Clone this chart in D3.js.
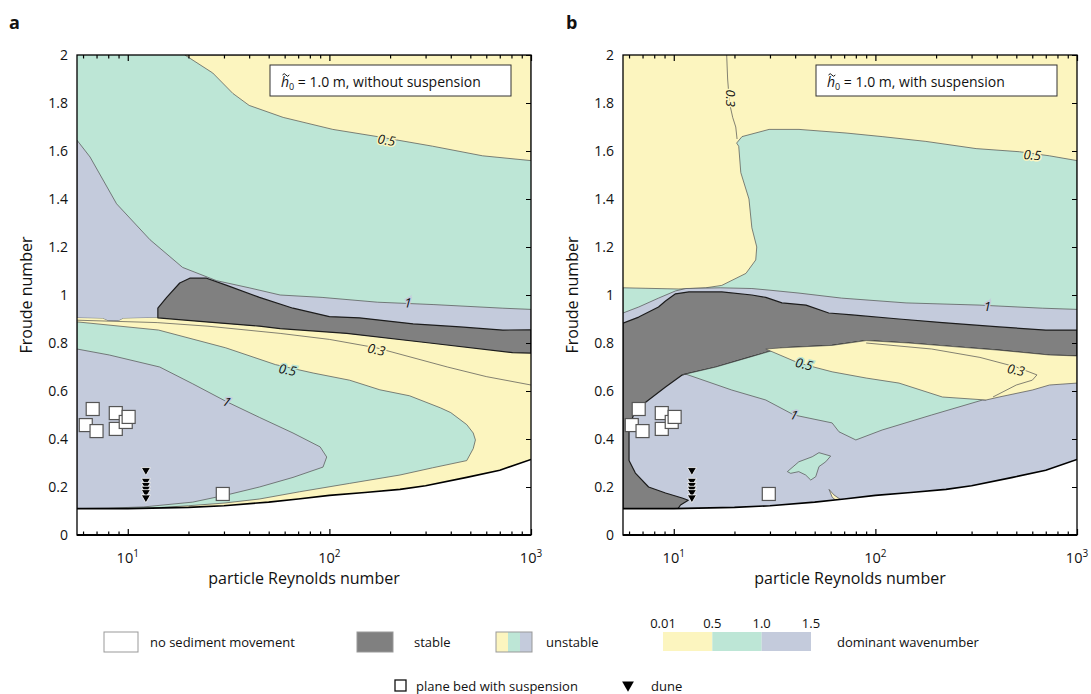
<!DOCTYPE html>
<meta charset="utf-8">
<script src="https://d3js.org/d3.v7.min.js"></script>
<style>
  body { margin: 0; background: #fff; }
  text { font-family: "Open Sans", sans-serif; fill: #111; }
</style>
<div id="chart"></div>
<script>
// ---- axis values ----
const Y_TICKS = [0, 0.2, 0.4, 0.6, 0.8, 1, 1.2, 1.4, 1.6, 1.8, 2];
const X_MAJOR = [10, 100, 1000];
const X_MINOR = [6, 7, 8, 9, 20, 30, 40, 50, 60, 70, 80, 90, 200, 300, 400, 500, 600, 700, 800, 900];

// ---- shared: threshold of motion and observations  [Re_p, Fr] ----
const noMotion = [[5.6,0.11],[10,0.11],[20,0.115],[30,0.122],[50,0.137],[70,0.15],[100,0.165],[150,0.177],[224,0.19],[300,0.205],[480,0.24],[700,0.27],[1000,0.315]];
const planeBed = [[6.7,0.525],[6.19,0.458],[7.0,0.433],[8.72,0.508],[8.72,0.442],[9.77,0.471],[10.1,0.492],[29.6,0.171]];
const dunes = [[12.3,0.27],[12.3,0.225],[12.3,0.208],[12.3,0.192],[12.3,0.178],[12.3,0.156]];

// ---- panel a: without suspension ----
const aTopYellow = [[19.2,2],[26.4,1.925],[33.2,1.84],[40,1.79],[59,1.74],[104,1.69],[173,1.66],[325,1.62],[575,1.58],[1000,1.56]];
const aUpperBlueTop = [[5.6,1.645],[6.5,1.575],[8.8,1.38],[12.9,1.23],[18.7,1.115],[27.5,1.06],[40,1.03],[57,1.0],[92,0.99],[173,0.97],[330,0.96],[725,0.945],[1000,0.94]];
const aBandBottom = [[5.6,0.904],[7.5,0.902],[8,0.892],[9,0.892],[9.5,0.902],[14.1,0.905],[22.8,0.89],[45,0.87],[57,0.86],[122,0.84],[315,0.80],[810,0.76],[1000,0.758]];
const aStableTop = [[14.1,0.905],[14.1,0.945],[15.6,0.99],[18.1,1.05],[20.3,1.07],[24.6,1.07],[31,1.04],[45,0.99],[66,0.945],[100,0.91],[141,0.905],[260,0.88],[445,0.867],[725,0.854],[1000,0.855]];
const aStableBottom = [[1000,0.758],[810,0.76],[315,0.80],[122,0.84],[57,0.86],[45,0.87],[22.8,0.89],[14.1,0.905]];
const aGreenLobe = [[5.6,0.888],[14.2,0.854],[30.6,0.78],[54,0.71],[83,0.675],[126,0.645],[178,0.605],[250,0.58],[355,0.53],[400,0.51],[480,0.46],[517,0.425],[530,0.396],[517,0.36],[480,0.31],[325,0.28],[224,0.25],[126,0.215],[71,0.18],[45,0.15],[30,0.133],[20,0.122],[13,0.112],[5.6,0.11]];
const aBlueLobe = [[5.6,0.775],[8.1,0.75],[14.4,0.70],[21,0.63],[31,0.555],[45,0.49],[66,0.425],[90,0.367],[97,0.325],[93,0.283],[66,0.24],[45,0.2],[31,0.167],[21,0.137],[12,0.117],[8,0.112],[5.6,0.11]];
const aContour03 = [[5.6,0.895],[14,0.885],[25,0.87],[57,0.84],[100,0.815],[171,0.78],[385,0.70],[600,0.66],[1000,0.625]];
const aLabels = [["0.5",192,1.645,9],["1",245,0.967,3],["0.3",171,0.772,13],["0.5",62,0.688,11],["1",31,0.555,26]];

// ---- panel b: with suspension ----
const bGreenTop = [[5.6,1.03],[10.6,1.025],[14.4,1.03],[17.3,1.04],[22.8,1.09],[25.5,1.146],[25.8,1.2],[24.4,1.28],[23.6,1.4],[21.5,1.51],[21.0,1.62],[20.5,1.633],[21.8,1.66],[29.7,1.69],[41.8,1.69],[71.5,1.675],[108,1.66],[178,1.64],[316,1.61],[518,1.597],[730,1.58],[1000,1.56]];
const bBlueTop = [[5.6,0.925],[6.7,0.95],[8.4,0.987],[10.2,1.017],[11.5,1.027],[17,1.03],[24.4,1.027],[30,1.02],[41.8,1.008],[68,0.987],[142,0.967],[327,0.958],[675,0.945],[1000,0.94]];
const bStableTop = [[5.6,0.883],[6.7,0.908],[8.4,0.95],[9.1,0.975],[10.2,1.005],[11.9,1.013],[17.3,1.013],[24.4,1.0],[28.6,0.99],[34.4,0.967],[45.3,0.958],[58.7,0.925],[76.6,0.917],[131,0.9],[215,0.885],[411,0.867],[700,0.854],[1000,0.854]];
const bStableBottom = [[1000,0.746],[730,0.75],[411,0.77],[260,0.783],[146,0.80],[90,0.81],[61,0.79],[34.4,0.78],[23.6,0.74],[16.2,0.70],[11,0.667],[9.1,0.617],[7.5,0.5625],[6.45,0.52],[6.0,0.45],[6.0,0.367],[6.0,0.31],[6.45,0.258],[7.5,0.2],[9.1,0.175],[11,0.154],[11.8,0.145],[10.8,0.125],[10.5,0.11],[5.6,0.11]];
const bGreenLobe = [[11,0.667],[16.2,0.70],[23.6,0.74],[34.4,0.78],[61,0.79],[90,0.81],[146,0.80],[260,0.783],[411,0.77],[354,0.5625],[340,0.5625],[190,0.5],[108,0.4375],[80,0.396],[66,0.43],[61,0.467],[39.5,0.5],[28.6,0.5625],[19.4,0.604],[11.5,0.67]];
const bMidYellow = [[1000,0.746],[730,0.75],[411,0.77],[260,0.783],[146,0.80],[90,0.81],[61,0.79],[34.4,0.78],[28.6,0.775],[41.8,0.716],[61,0.68],[90,0.654],[131,0.633],[215,0.575],[354,0.5625],[411,0.575],[600,0.604],[730,0.625],[1000,0.633]];
const bIsland = [[36.6,0.264],[41.7,0.305],[48.6,0.326],[52.5,0.343],[60,0.329],[56.7,0.305],[52.5,0.285],[50.6,0.243],[47.8,0.229],[45.1,0.25],[41.7,0.264],[38,0.257]];
const bSliver = [[58.9,0.19],[62.3,0.167],[68.5,0.143],[64.9,0.139],[61.1,0.157]];
const bContour03Top = [[18.3,2.0],[18.5,1.9],[18.9,1.8],[19.6,1.74],[20.3,1.70],[20.6,1.65]];
const bContour03Low = [[90,0.80],[190,0.775],[330,0.74],[500,0.70],[633,0.667],[600,0.645],[500,0.625],[383,0.575]];
const bLabels = [["0.3",19.1,1.82,90],["0.5",600,1.583,4],["1",359,0.951,0],["0.5",44.3,0.712,14],["1",39.5,0.5,16],["0.3",498,0.6875,12]];

// ---- colours ----
const C = { yellow: "#fcf5bf", green: "#bde6d6", blue: "#c4cbdc", stable: "#808080", edge: "#4f4f4f" };

const svg = d3.select("#chart").append("svg").attr("width", 1091).attr("height", 694);
const y = d3.scaleLinear().domain([0, 2]).range([535, 55]);
const xA = d3.scaleLog().domain([5.6, 1000]).range([77, 531]);
const xB = d3.scaleLog().domain([5.6, 1000]).range([623, 1077]);

function panel(id, x, fills, lines, labels, labelBg, title, letter, letterX) {
  const x0 = x.range()[0], x1 = x.range()[1];
  const line = d3.line().x(d => x(d[0])).y(d => y(d[1]));
  svg.append("clipPath").attr("id", "clip" + id).append("rect")
    .attr("x", x0).attr("y", y(2)).attr("width", x1 - x0).attr("height", y(0) - y(2));
  const g = svg.append("g").attr("clip-path", "url(#clip" + id + ")");

  fills.forEach(f => {
    g.append("path").attr("d", line(f.pts) + "Z")
      .attr("fill", f.fill)
      .attr("stroke", f.stroke || "none")
      .attr("stroke-width", f.sw || 0.7)
      .attr("stroke-linejoin", "round");
  });
  // no-motion region
  g.append("path").attr("d", line(noMotion.concat([[1000, 0], [5.6, 0]])) + "Z").attr("fill", "#fff");
  g.append("path").attr("d", line(noMotion)).attr("fill", "none").attr("stroke", "#000").attr("stroke-width", 1.6);

  lines.forEach(l => {
    g.append("path").attr("d", line(l)).attr("fill", "none").attr("stroke", C.edge).attr("stroke-width", 0.7);
  });

  labels.forEach((l, i) => {
    g.append("text")
      .attr("transform", `translate(${x(l[1])},${y(l[2])}) rotate(${l[3]})`)
      .attr("text-anchor", "middle").attr("dy", "0.35em")
      .attr("font-size", 13).attr("font-style", "italic")
      .attr("stroke", labelBg[i]).attr("stroke-width", 3).attr("paint-order", "stroke")
      .text(l[0]);
  });

  // observations
  g.selectAll(".pb").data(planeBed).join("rect")
    .attr("x", d => x(d[0]) - 6.5).attr("y", d => y(d[1]) - 6.5)
    .attr("width", 13).attr("height", 13)
    .attr("fill", "#fff").attr("stroke", "#555").attr("stroke-width", 1.2);
  g.selectAll(".du").data(dunes).join("path")
    .attr("d", d3.symbol(d3.symbolTriangle, 36))
    .attr("transform", d => `translate(${x(d[0])},${y(d[1])}) rotate(180)`)
    .attr("fill", "#000").attr("stroke", "#fff").attr("stroke-width", 0.8);

  // axes
  const left = svg.append("g").attr("transform", `translate(${x0},0)`)
    .call(d3.axisLeft(y).tickValues(Y_TICKS).tickSize(0).tickPadding(9).tickFormat(d3.format("~g")));
  left.select(".domain").remove();
  left.selectAll("text").attr("font-size", 14).attr("font-family", "Open Sans");

  const right = svg.append("g").attr("transform", `translate(${x1},0)`)
    .call(d3.axisLeft(y).tickValues(Y_TICKS).tickSize(5).tickFormat(""));
  right.select(".domain").remove();

  const xt = X_MAJOR.concat(X_MINOR);
  [["top", y(2), d3.axisBottom], ["bottom", y(0), d3.axisTop]].forEach(([n, yy, ax]) => {
    const a = svg.append("g").attr("transform", `translate(0,${yy})`)
      .call(ax(x).tickValues(xt).tickFormat("").tickSize(6));
    a.select(".domain").remove();
    a.selectAll(".tick line").attr("y2", d => (X_MAJOR.includes(d) ? 6 : 3.5) * (n === "top" ? 1 : -1))
      .attr("stroke-width", 1.2);
  });
  svg.selectAll(".tick line").attr("stroke", "#000");

  X_MAJOR.forEach((v, i) => {
    const t = svg.append("text").attr("x", x(v)).attr("y", 563).attr("text-anchor", "middle").attr("font-size", 14.5);
    t.append("tspan").text("10");
    t.append("tspan").attr("dy", -6).attr("font-size", 10).text(i + 1);
  });

  // frame
  svg.append("rect").attr("x", x0).attr("y", y(2)).attr("width", x1 - x0).attr("height", y(0) - y(2))
    .attr("fill", "none").attr("stroke", "#000").attr("stroke-width", 1.3);
  svg.append("line").attr("x1", x0).attr("x2", x1).attr("y1", y(0)).attr("y2", y(0))
    .attr("stroke", "#000").attr("stroke-width", 2);

  // axis titles
  svg.append("text").attr("x", (x0 + x1) / 2).attr("y", 584).attr("text-anchor", "middle")
    .attr("font-size", 16).text("particle Reynolds number");
  svg.append("text").attr("transform", `translate(${x0 - 45},${y(1)}) rotate(-90)`)
    .attr("text-anchor", "middle").attr("font-size", 16).text("Froude number");
  svg.append("text").attr("x", letterX).attr("y", 29).attr("font-size", 18).attr("font-weight", "bold").text(letter);

  // condition box
  const bx = x0 + 193;
  svg.append("rect").attr("x", bx).attr("y", 65).attr("width", 241).attr("height", 31)
    .attr("fill", "#fff").attr("stroke", "#333").attr("stroke-width", 1);
  const t = svg.append("text").attr("x", bx + 11).attr("y", 87).attr("font-size", 14);
  t.append("tspan").attr("font-style", "italic").text("h");
  t.append("tspan").attr("dy", 3).attr("font-size", 9).text("0");
  t.append("tspan").attr("dy", -3).text(" = 1.0 m, " + title);
  // tilde accent over h
  svg.append("path")
    .attr("d", `M${bx + 12.5},${75} q1.7,-2.6 3.4,0 t3.4,0`)
    .attr("fill", "none").attr("stroke", "#111").attr("stroke-width", 1);
}

panel("a", xA,
  [
    { pts: [[5.6,0],[1000,0],[1000,2],[5.6,2]], fill: C.green },
    { pts: aTopYellow.concat([[1000,2]]), fill: C.yellow, stroke: C.edge },
    { pts: aUpperBlueTop.concat(aBandBottom.slice().reverse()), fill: C.blue, stroke: C.edge },
    { pts: aBandBottom.concat([[1000,0],[5.6,0]]), fill: C.yellow },
    { pts: aStableTop.concat(aStableBottom), fill: C.stable, stroke: "#1c1c1c", sw: 1.2 },
    { pts: aGreenLobe, fill: C.green, stroke: C.edge },
    { pts: aBlueLobe, fill: C.blue, stroke: C.edge }
  ],
  [aContour03], aLabels, [C.yellow, C.blue, C.yellow, C.green, C.blue],
  "without suspension", "a", 9);

panel("b", xB,
  [
    { pts: [[5.6,0],[1000,0],[1000,2],[5.6,2]], fill: C.yellow },
    { pts: bGreenTop.concat([[1000,0],[5.6,0]]), fill: C.green, stroke: C.edge },
    { pts: bBlueTop.concat([[1000,0],[5.6,0]]), fill: C.blue, stroke: C.edge },
    { pts: bStableTop.concat(bStableBottom), fill: C.stable, stroke: "#1c1c1c", sw: 1.2 },
    { pts: bGreenLobe, fill: C.green, stroke: C.edge },
    { pts: bMidYellow, fill: C.yellow, stroke: C.edge },
    { pts: bIsland, fill: C.green, stroke: C.edge },
    { pts: bSliver, fill: C.yellow, stroke: C.edge }
  ],
  [bContour03Top, bContour03Low], bLabels, [C.yellow, C.yellow, C.blue, C.green, C.blue, C.yellow],
  "with suspension", "b", 566);

// ---- legend ----
const L = svg.append("g");
L.append("rect").attr("x", 104).attr("y", 632).attr("width", 34).attr("height", 20).attr("fill", "#fff").attr("stroke", "#999");
L.append("text").attr("x", 150).attr("y", 647).attr("font-size", 13).text("no sediment movement");
L.append("rect").attr("x", 357).attr("y", 632).attr("width", 36).attr("height", 20).attr("fill", C.stable).attr("stroke", "#999");
L.append("text").attr("x", 414).attr("y", 647).attr("font-size", 13).text("stable");
[C.yellow, C.green, C.blue].forEach((c, i) => {
  L.append("rect").attr("x", 496 + i * 12).attr("y", 632).attr("width", 12).attr("height", 20).attr("fill", c);
});
L.append("rect").attr("x", 496).attr("y", 632).attr("width", 36).attr("height", 20).attr("fill", "none").attr("stroke", "#999");
L.append("text").attr("x", 546).attr("y", 647).attr("font-size", 13).text("unstable");

const cbTicks = ["0.01", "0.5", "1.0", "1.5"];
const cb = d3.scaleLinear().domain([0, 3]).range([663, 811]);
[C.yellow, C.green, C.blue].forEach((c, i) => {
  L.append("rect").attr("x", cb(i)).attr("y", 632).attr("width", cb(i + 1) - cb(i)).attr("height", 19).attr("fill", c);
});
cbTicks.forEach((t, i) => {
  L.append("text").attr("x", cb(i)).attr("y", 628).attr("text-anchor", "middle").attr("font-size", 13).text(t);
});
L.append("text").attr("x", 837).attr("y", 647).attr("font-size", 13).text("dominant wavenumber");

L.append("rect").attr("x", 395).attr("y", 680).attr("width", 11).attr("height", 11).attr("fill", "#fff").attr("stroke", "#111").attr("stroke-width", 1.3);
L.append("text").attr("x", 416).attr("y", 691).attr("font-size", 13).text("plane bed with suspension");
L.append("path").attr("d", d3.symbol(d3.symbolTriangle, 60)).attr("transform", "translate(628,685) rotate(180)").attr("fill", "#000");
L.append("text").attr("x", 651).attr("y", 691).attr("font-size", 13).text("dune");
</script>
